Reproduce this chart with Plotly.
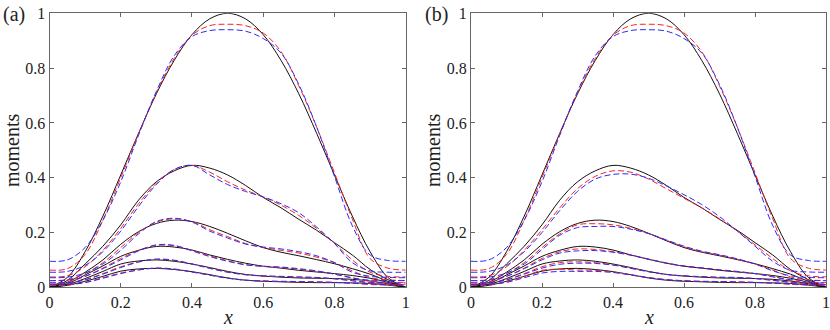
import plotly.graph_objs as go

# sample positions along x
x = [i * 0.05 for i in range(21)]

# exact moments (black solid), same in both panels
m1 = [0, .036, .130, .260, .410, .562, .706, .828, .922, .980, 1.0, .980, .922, .828, .706, .562, .410, .260, .130, .036, 0]
m2 = [0, .025, .085, .150, .228, .318, .385, .425, .445, .435, .410, .372, .328, .290, .248, .208, .163, .118, .065, .028, 0]
m3 = [0, .018, .055, .100, .157, .203, .233, .245, .240, .222, .197, .170, .145, .128, .115, .101, .086, .068, .048, .022, 0]
m4 = [0, .013, .045, .078, .113, .135, .149, .147, .136, .118, .102, .088, .077, .070, .062, .056, .050, .043, .033, .018, 0]
m5 = [0, .010, .032, .058, .085, .096, .100, .095, .085, .072, .058, .047, .041, .037, .034, .033, .032, .029, .023, .013, 0]
m6 = [0, .007, .022, .040, .059, .067, .069, .065, .057, .046, .034, .026, .022, .020, .018, .017, .017, .016, .014, .008, 0]
exact = [m1, m2, m3, m4, m5, m6]

# panel (a): red and blue dashed approximations
a_red = [
    [.063, .068, .120, .245, .400, .560, .710, .835, .920, .955, .960, .955, .928, .860, .735, .585, .418, .250, .105, .070, .063],
    [.038, .042, .075, .135, .215, .305, .380, .430, .445, .420, .385, .355, .330, .300, .262, .215, .160, .100, .055, .040, .038],
    [.025, .028, .050, .090, .145, .200, .238, .250, .240, .210, .185, .160, .145, .135, .125, .110, .090, .060, .035, .027, .025],
    [.017, .019, .040, .070, .105, .135, .153, .152, .135, .115, .097, .083, .076, .072, .066, .058, .048, .035, .022, .018, .017],
    [.011, .013, .028, .050, .075, .093, .102, .098, .085, .070, .056, .046, .041, .039, .037, .035, .031, .024, .015, .012, .011],
    [.007, .008, .018, .035, .052, .064, .070, .066, .056, .045, .034, .026, .023, .021, .020, .019, .018, .015, .010, .008, .007],
]
a_blue = [
    [.095, .100, .145, .245, .385, .555, .715, .845, .915, .937, .940, .935, .908, .855, .740, .585, .405, .225, .118, .098, .095],
    [.055, .058, .080, .130, .205, .295, .375, .430, .445, .410, .375, .350, .330, .305, .272, .220, .160, .090, .060, .055, .055],
    [.035, .037, .052, .085, .135, .195, .240, .252, .238, .205, .180, .158, .147, .140, .130, .115, .090, .055, .040, .036, .035],
    [.024, .026, .040, .068, .100, .133, .155, .153, .133, .112, .095, .082, .077, .074, .068, .060, .048, .034, .026, .025, .024],
    [.016, .017, .027, .048, .072, .092, .103, .099, .085, .069, .055, .046, .042, .040, .038, .036, .031, .024, .018, .016, .016],
    [.010, .011, .017, .033, .050, .063, .070, .067, .056, .044, .033, .026, .023, .022, .021, .020, .018, .015, .012, .010, .010],
]

# panel (b)
b_red = [
    [.063, .068, .120, .245, .400, .560, .710, .835, .920, .955, .960, .955, .928, .860, .735, .585, .418, .250, .105, .070, .063],
    [.038, .042, .075, .135, .210, .290, .360, .405, .425, .420, .395, .360, .325, .290, .250, .205, .155, .105, .060, .042, .038],
    [.025, .028, .050, .090, .145, .195, .228, .232, .228, .215, .197, .172, .148, .130, .117, .102, .085, .063, .038, .027, .025],
    [.017, .019, .040, .070, .105, .130, .140, .138, .130, .118, .103, .088, .077, .070, .063, .057, .050, .040, .025, .018, .017],
    [.011, .013, .028, .050, .075, .090, .093, .090, .082, .070, .057, .047, .041, .038, .036, .035, .032, .026, .017, .012, .011],
    [.007, .008, .020, .040, .062, .066, .063, .062, .056, .046, .036, .028, .024, .021, .020, .019, .018, .016, .011, .008, .007],
]
b_blue = [
    [.095, .100, .145, .245, .385, .555, .715, .845, .915, .937, .940, .935, .908, .855, .740, .585, .405, .225, .118, .098, .095],
    [.055, .058, .080, .130, .200, .280, .350, .395, .412, .413, .398, .370, .338, .302, .258, .205, .150, .095, .062, .056, .055],
    [.035, .037, .052, .085, .138, .190, .218, .222, .222, .212, .196, .173, .150, .132, .119, .104, .085, .060, .042, .036, .035],
    [.024, .026, .040, .068, .100, .125, .133, .134, .128, .117, .103, .089, .078, .071, .064, .058, .050, .038, .028, .025, .024],
    [.016, .017, .027, .048, .070, .084, .088, .087, .081, .069, .057, .047, .042, .039, .037, .036, .032, .025, .019, .016, .016],
    [.010, .011, .018, .035, .052, .058, .058, .058, .054, .045, .035, .028, .024, .022, .021, .020, .018, .015, .012, .010, .010],
]

tick_vals = [0, 0.2, 0.4, 0.6, 0.8, 1]
tick_text = ["0", "0.2", "0.4", "0.6", "0.8", "1"]

fig = go.Figure()


def add_panel(xa, ya, red, blue):
    for y in exact:
        fig.add_trace(go.Scatter(x=x, y=y, xaxis=xa, yaxis=ya, mode="lines",
                                 line=dict(color="#111111", width=1, shape="spline")))
    for y in red:
        fig.add_trace(go.Scatter(x=x, y=y, xaxis=xa, yaxis=ya, mode="lines",
                                 line=dict(color="#ff2020", width=1, dash="6px,3px", shape="spline")))
    for y in blue:
        fig.add_trace(go.Scatter(x=x, y=y, xaxis=xa, yaxis=ya, mode="lines",
                                 line=dict(color="#2a2aff", width=1, dash="6px,3px", shape="spline")))


add_panel("x", "y", a_red, a_blue)
add_panel("x2", "y2", b_red, b_blue)

font = dict(family="Liberation Serif", size=16, color="#222222")
axis_style = dict(range=[0, 1], tickvals=tick_vals, ticktext=tick_text, ticks="inside",
                  ticklen=4, tickcolor="#666666", showline=True, linecolor="#666666",
                  linewidth=1, mirror="ticks", showgrid=False, zeroline=False,
                  tickfont=font, automargin=False, ticklabeloverflow="allow")

ydom = [1 - 287.3 / 330, 1 - 13.3 / 330]
fig.update_layout(
    width=830, height=330,
    margin=dict(l=0, r=0, t=0, b=0),
    paper_bgcolor="white", plot_bgcolor="white",
    showlegend=False,
    font=dict(family="Liberation Serif"),
    xaxis=dict(domain=[49.5 / 830, 405.7 / 830], anchor="y", **axis_style),
    yaxis=dict(domain=ydom, anchor="x", **axis_style),
    xaxis2=dict(domain=[471 / 830, 826 / 830], anchor="y2", **axis_style),
    yaxis2=dict(domain=ydom, anchor="x2", **axis_style),
)

label_font = dict(family="Liberation Serif", size=20, color="#222222")

annots = [
    dict(x=228 / 830, y=1 - 317 / 330, text="<i>x</i>"),
    dict(x=649 / 830, y=1 - 317 / 330, text="<i>x</i>"),
    dict(x=14 / 830, y=1 - 15 / 330, text="(a)"),
    dict(x=436 / 830, y=1 - 15 / 330, text="(b)"),
]
for a in annots:
    fig.add_annotation(xref="paper", yref="paper", showarrow=False,
                       xanchor="center", yanchor="middle", font=label_font, **a)
for xc in [12, 433]:
    fig.add_annotation(x=xc / 830, y=1 - 150 / 330, xref="paper", yref="paper",
                       text="moments", textangle=-90, showarrow=False,
                       xanchor="center", yanchor="middle", font=label_font)

# drop the browser's default 8px body margin so the figure sits at the page corner
fig.write_html("out.html", config={"displayModeBar": False},
               post_script="document.body.style.margin = '0';")
